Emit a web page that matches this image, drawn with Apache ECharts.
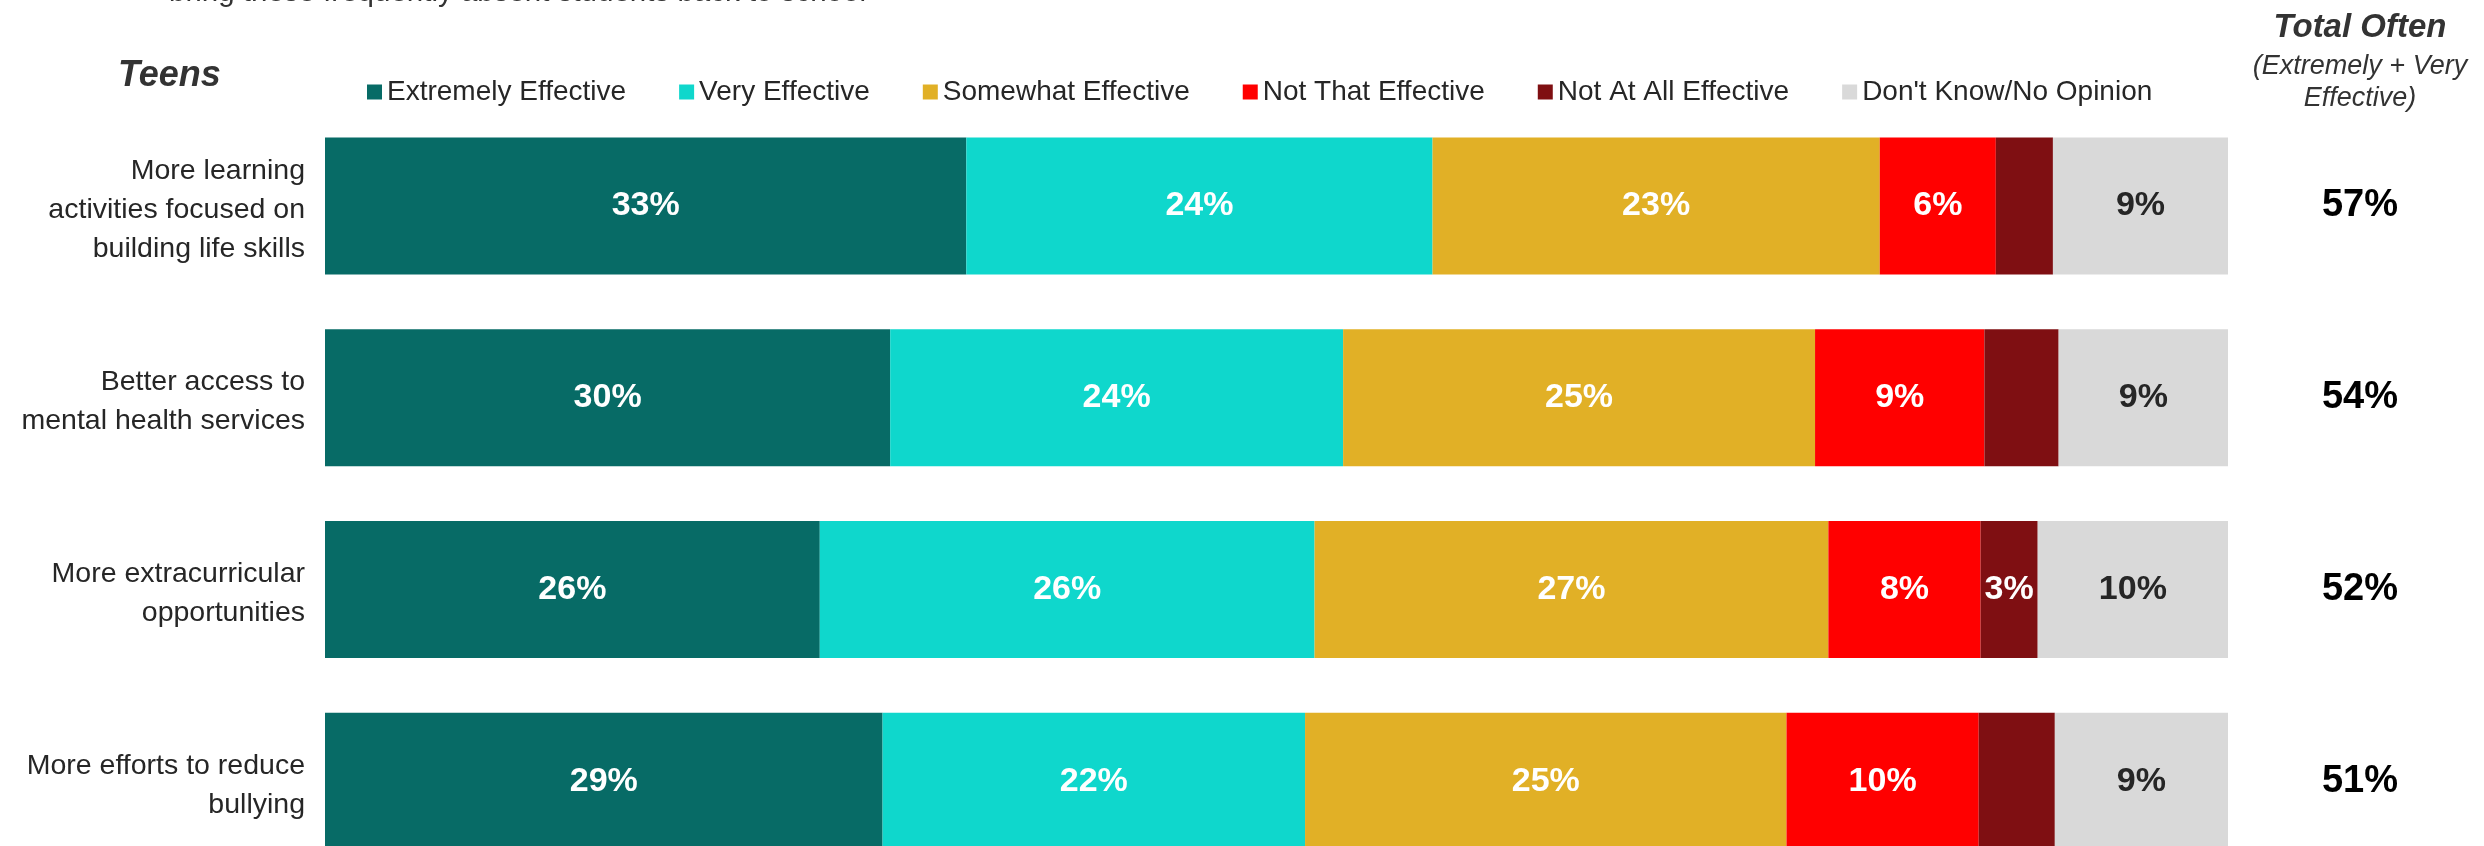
<!DOCTYPE html>
<html>
<head>
<meta charset="utf-8">
<script src="https://cdn.jsdelivr.net/npm/echarts@6/dist/echarts.min.js"></script>
<style>
  body { margin: 0; background: #fff; }
  #main { width: 2484px; height: 846px; }
</style>
</head>
<body>
<div id="main"></div>
<script>
// rows, top to bottom
var categories = [
  'More learning\nactivities focused on\nbuilding life skills',
  'Better access to\nmental health services',
  'More extracurricular\nopportunities',
  'More efforts to reduce\nbullying'
];
var seriesNames = ['Extremely Effective', 'Very Effective', 'Somewhat Effective',
  'Not That Effective', 'Not At All Effective', "Don't Know/No Opinion"];

// bar widths (each row adds up to 100)
var extremely = [33.7, 29.7, 26.0, 29.3];
var very      = [24.5, 23.8, 26.0, 22.2];
var somewhat  = [23.5, 24.8, 27.0, 25.3];
var notThat   = [6.1, 8.9, 8.0, 10.1];
var notAtAll  = [3.0, 3.9, 3.0, 4.0];
var dontKnow  = [9.2, 8.9, 10.0, 9.1];

// printed labels (null = no label shown)
var extremelyLbl = [33, 30, 26, 29];
var veryLbl      = [24, 24, 26, 22];
var somewhatLbl  = [23, 25, 27, 25];
var notThatLbl   = [6, 9, 8, 10];
var notAtAllLbl  = [null, null, 3, null];
var dontKnowLbl  = [9, 9, 10, 9];

var totalOften = [57, 54, 52, 51];

var colors = ['#076b66', '#0fd7cc', '#e1b026', '#ff0000', '#7f0f12', '#d9d9d9'];
var values = [extremely, very, somewhat, notThat, notAtAll, dontKnow];
var labels = [extremelyLbl, veryLbl, somewhatLbl, notThatLbl, notAtAllLbl, dontKnowLbl];

var FONT = '"Liberation Sans", Arial, sans-serif';

var chart = echarts.init(document.getElementById('main'));

var series = seriesNames.map(function (name, k) {
  return {
    name: name,
    type: 'bar',
    stack: 'all',
    barWidth: 137,
    data: values[k],
    itemStyle: { color: colors[k] },
    label: {
      show: true,
      position: 'inside',
      fontSize: 34,
      fontWeight: 'bold',
      fontFamily: FONT,
      color: k === 5 ? '#262626' : '#ffffff',
      formatter: function (p) {
        var v = labels[k][p.dataIndex];
        return v == null ? '' : v + '%';
      }
    },
    emphasis: { disabled: true }
  };
});

var option = {
  animation: false,
  textStyle: { fontFamily: FONT },
  title: {
    text: 'Teens',
    left: 118,
    top: 58,
    padding: 0,
    textStyle: { fontSize: 36, fontWeight: 'bold', fontStyle: 'italic', color: '#333333', fontFamily: FONT }
  },
  legend: {
    data: seriesNames,
    left: 367,
    top: 78,
    padding: 0,
    icon: 'rect',
    itemWidth: 15,
    itemHeight: 15,
    itemGap: 53,
    textStyle: { fontSize: 28, color: '#262626', fontFamily: FONT }
  },
  graphic: [
    {
      type: 'text', left: 169, top: -22,
      style: { text: 'bring these frequently absent students back to school', fontSize: 29.5, fontFamily: FONT, fill: '#333333' }
    },
    {
      type: 'text', x: 2360, y: 28,
      style: { text: 'Total Often', align: 'center', verticalAlign: 'middle', fontSize: 33, fontWeight: 'bold', fontStyle: 'italic', fontFamily: FONT, fill: '#333333' }
    },
    {
      type: 'text', x: 2360, y: 82,
      style: { text: '(Extremely + Very\nEffective)', align: 'center', verticalAlign: 'middle', fontSize: 27, lineHeight: 32, fontStyle: 'italic', fontFamily: FONT, fill: '#333333' }
    }
  ],
  grid: {
    left: 325,
    top: 110,
    width: 1903,
    height: 767,
    containLabel: false,
    outerBoundsMode: 'none'
  },
  xAxis: { type: 'value', min: 0, max: 100, show: false },
  yAxis: [
    {
      type: 'category',
      inverse: true,
      data: categories,
      axisLine: { show: false },
      axisTick: { show: false },
      axisLabel: {
        fontSize: 28.5, lineHeight: 39, color: '#262626', margin: 20, align: 'right',
        // small blank line on top nudges the block down a little
        formatter: function (v) { return '{s| }\n' + v; },
        rich: { s: { fontSize: 2, lineHeight: 9 } }
      }
    },
    {
      type: 'category',
      inverse: true,
      position: 'right',
      data: categories,
      axisLine: { show: false },
      axisTick: { show: false },
      axisLabel: {
        fontSize: 38, fontWeight: 'bold', color: '#000000', margin: 132, align: 'center',
        formatter: function (v, i) { return totalOften[i] + '%'; }
      }
    }
  ],
  series: series
};

chart.setOption(option);
</script>
</body>
</html>
